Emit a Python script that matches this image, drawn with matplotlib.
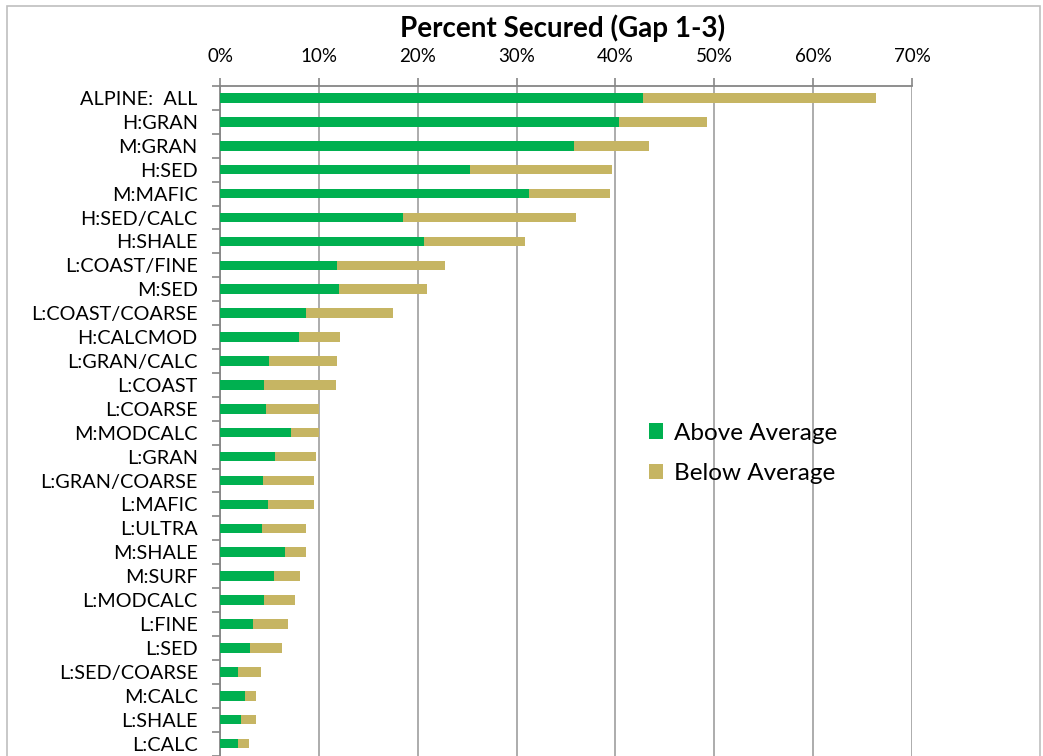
import matplotlib.pyplot as plt
from matplotlib.patches import Rectangle
from matplotlib.ticker import FixedLocator, PercentFormatter

plt.rcParams['font.family'] = ['Lato', 'DejaVu Sans']

# data (percent secured)
categories = ['ALPINE:  ALL', 'H:GRAN', 'M:GRAN', 'H:SED', 'M:MAFIC', 'H:SED/CALC',
              'H:SHALE', 'L:COAST/FINE', 'M:SED', 'L:COAST/COARSE', 'H:CALCMOD',
              'L:GRAN/CALC', 'L:COAST', 'L:COARSE', 'M:MODCALC', 'L:GRAN',
              'L:GRAN/COARSE', 'L:MAFIC', 'L:ULTRA', 'M:SHALE', 'M:SURF',
              'L:MODCALC', 'L:FINE', 'L:SED', 'L:SED/COARSE', 'M:CALC',
              'L:SHALE', 'L:CALC']
above = [42.8, 40.4, 35.8, 25.3, 31.3, 18.5, 20.6, 11.8, 12.0, 8.7, 8.0,
         5.0, 4.5, 4.7, 7.2, 5.6, 4.4, 4.9, 4.2, 6.6, 5.5,
         4.5, 3.3, 3.0, 1.8, 2.5, 2.1, 1.8]
below = [23.6, 8.9, 7.6, 14.4, 8.2, 17.5, 10.3, 11.0, 8.9, 8.8, 4.1,
         6.8, 7.2, 5.3, 2.8, 4.1, 5.1, 4.6, 4.5, 2.1, 2.6,
         3.1, 3.6, 3.3, 2.3, 1.1, 1.5, 1.1]

green = '#00b050'
tan = '#c6b563'
grid_col = '#a6a6a6'

W, H = 1043, 756
fig = plt.figure(figsize=(W / 100, H / 100), dpi=100)
ax = fig.add_axes([220 / W, 0.0, (912 - 220) / W, 1 - 86 / H])

pos = list(range(len(categories)))
ax.barh(pos, above, height=0.4, color=green, label='Above Average', zorder=3)
ax.barh(pos, below, left=above, height=0.4, color=tan, label='Below Average', zorder=3)

ax.set_xlim(0, 70)
ax.set_ylim(len(categories) - 0.5 + 0.02, -0.5)
ax.xaxis.tick_top()
ax.set_xticks(range(0, 71, 10))
ax.xaxis.set_major_formatter(PercentFormatter(decimals=0))
ax.grid(axis='x', color=grid_col, linewidth=1.3, zorder=0)

ax.set_yticks(pos)
ax.set_yticklabels(categories)
ax.yaxis.set_minor_locator(FixedLocator([p - 0.5 for p in pos] + [len(pos) - 0.5]))
ax.tick_params(axis='y', which='major', length=0, pad=16, labelsize=14.3)
ax.tick_params(axis='y', which='minor', length=6, color='#868686', width=1.2)
ax.tick_params(axis='x', length=6, color='#868686', width=1.2, pad=9, labelsize=13.5)

for side in ['right', 'bottom']:
    ax.spines[side].set_visible(False)
for side in ['left', 'top']:
    ax.spines[side].set_color('#868686')
    ax.spines[side].set_linewidth(1.3)

fig.text(563 / W, 1 - 28 / H, 'Percent Secured (Gap 1-3)', fontsize=20,
         fontweight='bold', ha='center', va='center')

leg = ax.legend(loc='upper left', bbox_to_anchor=(0.588, 0.53), frameon=False,
                fontsize=17.5, handlelength=0.6, handleheight=0.6,
                handletextpad=0.45, labelspacing=0.79)

# chart area border
fig.patches.append(Rectangle((7 / W, -0.01), (1040 - 7) / W, 1 - 6 / H + 0.01,
                             transform=fig.transFigure, fill=False,
                             edgecolor='#bfbfbf', linewidth=1.2))

fig.savefig('out.png', dpi=100)
